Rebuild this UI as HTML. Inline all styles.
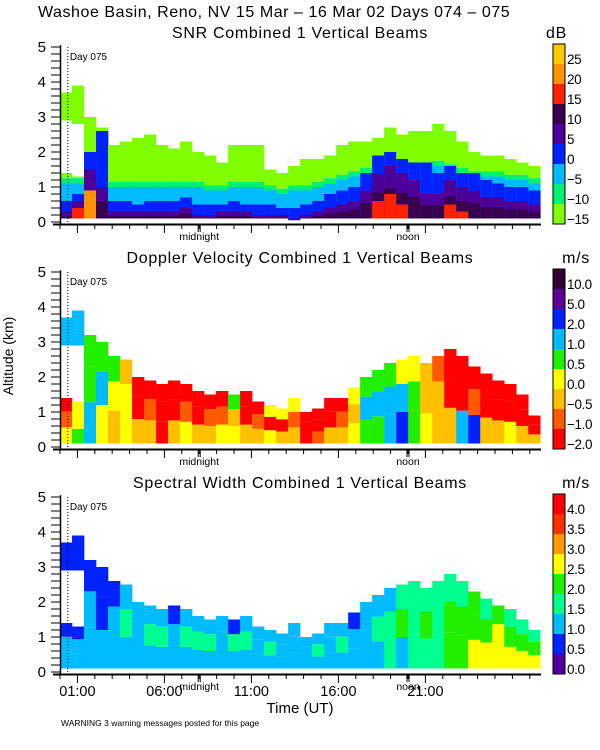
<!DOCTYPE html>
<html><head><meta charset="utf-8"><style>
html,body{margin:0;padding:0;background:#fff;}
svg{display:block;font-family:"Liberation Sans",sans-serif;}
</style></head><body>
<svg id="chart" width="600" height="750" viewBox="0 0 600 750" xmlns="http://www.w3.org/2000/svg">
<text x="38" y="17" font-size="16" letter-spacing="0.55" fill="#000">Washoe Basin, Reno, NV  15 Mar – 16 Mar 02 Days 074 – 075</text>
<text x="13" y="356" font-size="14" fill="#000" text-anchor="middle" transform="rotate(-90 13 356)">Altitude (km)</text>
<text x="300" y="713" font-size="15" fill="#000" text-anchor="middle">Time (UT)</text>
<text x="61" y="726" font-size="8.5" fill="#000">WARNING  3 warning messages posted for this page</text>
<g id="layer"></g>
</svg>
<script>
// ---- shared axis data ----
const yTicks = [0,1,2,3,4,5];
const timeLabels = ["01:00","06:00","11:00","16:00","21:00"];
const timeLabelHours = [1,6,11,16,21];
const localMarks = ["midnight","noon"];
const localMarkHours = [8.0,20.0];
const dayMarkHour = 0.45;
const nBins = 40;
const binHours = 0.69; // hours per bin

// ---- SNR panel data (km heights per time bin) ----
const snrTop  = [1.4,1.3,3.0,2.7,2.2,2.3,2.4,2.5,2.2,2.1,2.3,2.0,1.9,1.7,2.2,2.2,2.2,1.5,1.4,1.6,1.8,1.8,1.9,2.2,2.3,2.3,2.4,2.7,2.5,2.6,2.6,2.8,2.6,2.3,2.0,1.9,1.9,1.8,1.7,1.6];
const snrCyan = [1.1,1.1,1.2,1.1,1.0,1.0,1.0,1.0,1.0,1.0,1.0,1.0,0.9,0.9,1.0,1.0,1.0,0.9,0.8,0.9,0.9,1.0,1.1,1.2,1.3,1.4,1.5,1.6,1.5,1.5,1.5,1.6,1.5,1.4,1.3,1.3,1.3,1.2,1.2,1.1];
const snrBlue = [0.6,0.8,2.0,2.6,0.6,0.6,0.5,0.6,0.6,0.6,0.7,0.5,0.5,0.5,0.6,0.5,0.5,0.5,0.4,0.4,0.5,0.6,0.8,0.9,1.0,1.4,1.9,2.0,1.8,1.7,1.7,1.4,1.6,1.4,1.4,1.2,1.1,1.0,1.0,0.9];
const snrDark = [0.3,0.6,1.5,1.0,0.3,0.3,0.3,0.3,0.3,0.3,0.4,0.2,0.2,0.3,0.3,0.3,0.2,0.2,0.2,0.1,0.2,0.3,0.4,0.5,0.6,0.9,1.4,1.6,1.4,1.2,0.8,0.8,1.2,1.0,0.9,0.7,0.7,0.6,0.6,0.5];
const snrRed  = [0,0.4,0.9,0,0,0,0,0,0,0,0,0,0,0,0,0,0,0,0,0,0,0,0,0,0,0,0.6,0.8,0.5,0,0,0,0.5,0.3,0,0,0,0,0,0];
const snrAloftLo = [2.9,2.8,0,0,0,0,0,0,0,0,0,0,0,0,0,0,0,0,0,0,0,0,0,0,0,0,0,0,0,0,0,0,0,0,0,0,0,0,0,0];
const snrAloftHi = [3.7,3.9,0,0,0,0,0,0,0,0,0,0,0,0,0,0,0,0,0,0,0,0,0,0,0,0,0,0,0,0,0,0,0,0,0,0,0,0,0,0];
const snrLabels = ["25","20","15","10","5","0","−5","−10","−15"];

// ---- Doppler velocity panel data ----
const velTop  = [1.4,1.3,3.2,3.0,2.6,2.5,2.0,1.9,1.8,1.9,1.8,1.6,1.5,1.6,1.5,1.6,1.3,1.2,1.1,1.4,1.0,1.1,1.4,1.4,1.7,2.0,2.2,2.4,2.5,2.6,2.4,2.6,2.8,2.6,2.3,2.1,1.9,1.8,1.5,0.9];
const velLow  = [3,4,5,3,2,3,2,2,0,2,3,2,2,3,3,2,2,3,2,2,0,1,2,2,3,4,4,5,6,4,3,2,2,5,6,2,2,3,2,2];
const velMid  = [1,3,4,5,3,3,0,1,0,0,1,0,1,1,2,0,1,0,0,1,0,0,0,1,2,5,5,5,5,4,2,2,0,0,1,0,0,0,0,0];
const velHigh = [0,3,4,4,4,2,0,0,0,0,0,0,0,0,4,0,0,3,3,3,0,0,0,0,3,4,4,4,3,3,2,1,0,0,0,0,0,0,0,0];
const velAloftLo = [2.9,2.9,0,0,0,0,0,0,0,0,0,0,0,0,0,0,0,0,0,0,0,0,0,0,0,0,0,0,0,0,0,0,0,0,0,0,0,0,0,0];
const velAloftHi = [3.7,3.9,0,0,0,0,0,0,0,0,0,0,0,0,0,0,0,0,0,0,0,0,0,0,0,0,0,0,0,0,0,0,0,0,0,0,0,0,0,0];
const velLabels = ["10.0","5.0","2.0","1.0","0.5","0.0","−0.5","−1.0","−2.0"];

// ---- Spectral width panel data ----
const swTop  = [1.4,1.3,3.2,3.0,2.6,2.5,2.0,1.9,1.8,1.9,1.8,1.6,1.5,1.6,1.5,1.6,1.3,1.2,1.1,1.4,1.0,1.1,1.4,1.4,1.7,2.0,2.2,2.4,2.5,2.6,2.4,2.6,2.8,2.6,2.3,2.1,1.9,1.8,1.5,1.2];
const swLow  = [2,2,2,2,2,2,2,2,2,2,2,2,2,2,2,2,2,2,2,2,2,2,2,2,2,2,2,3,2,3,3,3,4,4,5,5,5,5,5,5];
const swMid  = [2,2,2,1,2,3,2,3,3,2,3,3,3,2,3,3,2,3,2,2,2,3,2,3,2,2,3,3,4,3,4,3,4,4,4,4,5,4,4,4];
const swHigh = [1,1,1,1,1,2,2,2,2,1,2,2,2,2,1,2,2,2,2,2,2,2,2,2,1,2,2,2,3,3,3,3,3,3,4,3,4,3,3,3];
const swAloftLo = [2.9,2.9,0,0,0,0,0,0,0,0,0,0,0,0,0,0,0,0,0,0,0,0,0,0,0,0,0,0,0,0,0,0,0,0,0,0,0,0,0,0];
const swAloftHi = [3.7,3.9,0,0,0,0,0,0,0,0,0,0,0,0,0,0,0,0,0,0,0,0,0,0,0,0,0,0,0,0,0,0,0,0,0,0,0,0,0,0];
const swLabels = ["4.0","3.5","3.0","2.5","2.0","1.5","1.0","0.5","0.0"];

// palettes (top to bottom of colorbar)
const snrColors = ["#ffc800","#ff9400","#ff2200","#3a0050","#4c0098","#0022ff","#00bcff","#00f070","#80ff00"];
const velColors = ["#300030","#5a0096","#0022ff","#00bcff","#22ee00","#ffff00","#ffc000","#ff5a00","#ff0000"];
const swColors  = ["#ff0000","#ff3000","#ff9900","#ffff00","#22ee00","#00ff90","#00bcff","#0022ff","#50009a"];
const velIdx = ["#ff0000","#ff5a00","#ffc000","#ffff00","#22ee00","#00bcff","#0022ff","#5a0096","#300030"];
const swIdx  = ["#50009a","#0022ff","#00bcff","#00ff90","#22ee00","#ffff00","#ff9900","#ff3000","#ff0000"];

const NS = "http://www.w3.org/2000/svg";
const layer = document.getElementById('layer');
const X0 = 60, PXH = 17.4, KM = 35, BASE = 0.1;
const xOf = h => X0 + h * PXH;
function yOf(km, off){ return 222 + off - km * KM; }

function mk(tag, attrs, parent){
  const e = document.createElementNS(NS, tag);
  for (const k in attrs) e.setAttribute(k, attrs[k]);
  (parent || layer).appendChild(e);
  return e;
}
function band(g, i, lo, hi, color, off){
  if (hi <= lo) return;
  const x1 = xOf(i * binHours), x2 = xOf((i + 1) * binHours);
  const r = mk('rect', {x:x1.toFixed(2), y:yOf(hi,off).toFixed(2), width:(x2-x1+0.3).toFixed(2), height:((hi-lo)*KM).toFixed(2), fill:color}, g);
  
  
}

function axes(off, title, unit, labels, colors, key){
  const g = mk('g', {});
  
  
  const t = mk('text', {x:300, y:38+off, 'font-size':16, 'letter-spacing':0.7, 'text-anchor':'middle'}, g);
  t.textContent = title;
  
  
  const u = mk('text', {x: unit==='dB'?567:590, y:38+off, 'font-size':16, 'letter-spacing':0.7, 'text-anchor':'end'}, g);
  u.textContent = unit;
  
  
  mk('line', {x1:60.5, y1:yOf(5.05,off), x2:60.5, y2:224+off, stroke:'#000', 'stroke-width':1.5}, g);
  for (let k = 0; k <= 25; k++) {
    const y = yOf(k*0.2, off);
    mk('line', {x1:51, y1:y, x2:60, y2:y, stroke:'#000', 'stroke-width':1}, g);
  }
  yTicks.forEach(v => {
    const tx = mk('text', {x:46, y:yOf(v,off)+5, 'font-size':15, 'text-anchor':'end'}, g);
    tx.textContent = v;
    
    
  });
  mk('line', {x1:53, y1:224.5+off, x2:541, y2:224.5+off, stroke:'#000', 'stroke-width':2}, g);
  for (let h = 0; h <= 27; h++) {
    const major = timeLabelHours.includes(h);
    mk('line', {x1:xOf(h), y1:225+off, x2:xOf(h), y2:(major?233:229)+off, stroke:'#000', 'stroke-width':1}, g);
  }
  localMarks.forEach((m, i) => {
    const x = xOf(localMarkHours[i]);
    mk('line', {x1:x-1, y1:225+off, x2:x-1, y2:232+off, stroke:'#000'}, g);
    mk('line', {x1:x+1, y1:225+off, x2:x+1, y2:232+off, stroke:'#000'}, g);
    const tx = mk('text', {x:x, y:240+off, 'font-size':10.5, 'text-anchor':'middle'}, g);
    tx.textContent = m;
    
    
  });
  const dx = xOf(dayMarkHour);
  mk('line', {x1:dx, y1:yOf(5,off), x2:dx, y2:222+off, stroke:'#000', 'stroke-dasharray':'1,2', 'stroke-width':1}, g);
  const dt = mk('text', {x:dx+2, y:yOf(4.75,off)+4, 'font-size':10}, g);
  dt.textContent = 'Day 075';
  
  
  const cb = mk('g', {}, g);
  
  
  const segH = 20, top = 44 + off;
  colors.forEach((c, i) => {
    mk('rect', {x:553, y:top + i*segH, width:12, height:segH, fill:c}, cb);
    const lt = mk('text', {x:567, y:top + i*segH + 16 + 4, 'font-size':13.5, 'letter-spacing':-0.4}, cb);
    lt.textContent = labels[i];
    
    
  });
  mk('rect', {x:553, y:top, width:12, height:segH*colors.length, fill:'none', stroke:'#000', 'stroke-width':1}, cb);
}

// SNR panel
(function(){
  const off = 0;
  const g = mk('g', {});
  
  
  for (let i = 0; i < nBins; i++) {
    band(g, i, snrCyan[i] + 0.15, snrTop[i], "#80ff00", off);
    band(g, i, snrCyan[i], Math.min(snrCyan[i] + 0.15, snrTop[i]), "#00f070", off);
    band(g, i, BASE, snrCyan[i], "#00bcff", off);
    band(g, i, BASE, snrBlue[i], "#0022ff", off);
    band(g, i, snrDark[i]*0.5, snrDark[i], "#4c0098", off);
    band(g, i, BASE, snrDark[i]*0.6, "#3a0050", off);
    band(g, i, BASE, snrRed[i], i === 2 ? "#ff9400" : "#ff2200", off);
    band(g, i, snrAloftLo[i], snrAloftHi[i], "#80ff00", off);
  }
  axes(off, "SNR Combined 1 Vertical Beams", "dB", snrLabels, snrColors, 'snr');
})();

// Velocity panel
(function(){
  const off = 225;
  const g = mk('g', {});
  
  
  for (let i = 0; i < nBins; i++) {
    const t = velTop[i];
    band(g, i, BASE, t*0.4, velIdx[velLow[i]], off);
    band(g, i, t*0.4, t*0.72, velIdx[velMid[i]], off);
    band(g, i, t*0.72, t, velIdx[velHigh[i]], off);
    band(g, i, velAloftLo[i], velAloftHi[i], "#00bcff", off);
  }
  axes(off, "Doppler Velocity Combined 1 Vertical Beams", "m/s", velLabels, velColors, 'velocity');
})();

// Spectral width panel
(function(){
  const off = 450;
  const g = mk('g', {});
  
  
  for (let i = 0; i < nBins; i++) {
    const t = swTop[i];
    band(g, i, BASE, t*0.4, swIdx[swLow[i]], off);
    band(g, i, t*0.4, t*0.72, swIdx[swMid[i]], off);
    band(g, i, t*0.72, t, swIdx[swHigh[i]], off);
    band(g, i, swAloftLo[i], swAloftHi[i], "#0022ff", off);
  }
  axes(off, "Spectral Width Combined 1 Vertical Beams", "m/s", swLabels, swColors, 'spectral-width');
  timeLabels.forEach((l, i) => {
    const tx = mk('text', {x:xOf(timeLabelHours[i]), y:696, 'font-size':14.5, 'text-anchor':'middle'});
    tx.textContent = l;
    
    
  });
})();
</script>
</body></html>
